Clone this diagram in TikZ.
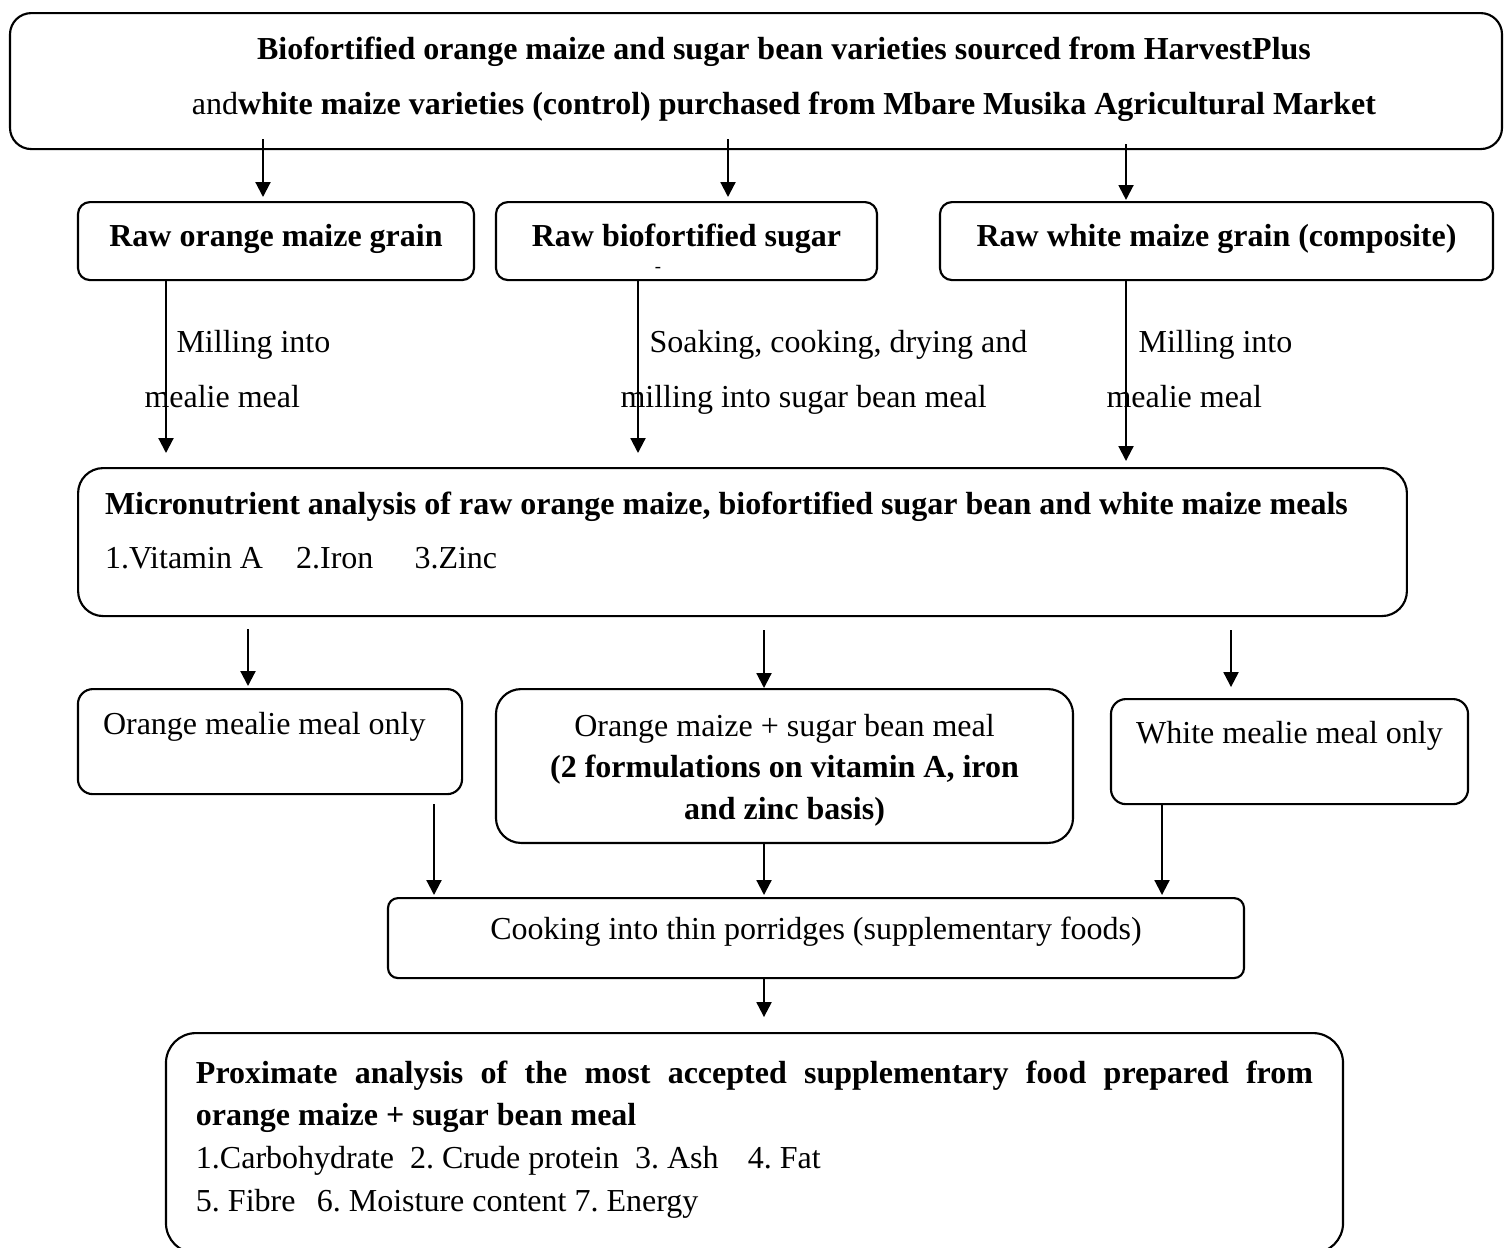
\documentclass[tikz,border=0pt]{standalone}
\usepackage{fontspec}
\setmainfont{Liberation Serif}
\usetikzlibrary{arrows.meta, calc}
\newcommand{\boxfont}[1]{\fontsize{12}{#1}\selectfont}
\tikzstyle{frame} = [draw, line width=0.8pt, inner xsep=0pt, inner ysep=0pt, anchor=north]
\tikzstyle{box} = [frame, align=center, font=\boxfont{14.4}, execute at begin node={\spaceskip=3pt\xspaceskip=3pt\relax}]
\tikzstyle{flow} = [line width=0.8pt, -{Triangle[length=5.6pt, width=5.6pt]}]
\tikzstyle{lbl} = [inner sep=0pt, anchor=base west, font=\boxfont{14.4}]

\begin{document}
\begin{tikzpicture}[x=0.375pt, y=-0.375pt]
\useasboundingbox (0,0) rectangle (1504,1247);
\clip (0,0) rectangle (1504,1247);

% sources
\node[box, rounded corners=8pt, text width=559.5pt, text height=17.25pt, text depth=33.75pt, font=\boxfont{20.6}] (src) at (756,12) {\hspace*{21pt}\textbf{Biofortified orange maize and sugar bean varieties sourced from HarvestPlus}\\\hspace*{21pt}and\textbf{white maize varieties (control) purchased from Mbare Musika Agricultural Market}};

% raw grains
\node[box, rounded corners=4.5pt, text width=148.5pt, text height=16.5pt, text depth=12.75pt] (rog) at (276,201) {\textbf{Raw orange maize grain}};
\node[box, rounded corners=4.5pt, text width=142.9pt, text height=16.5pt, text depth=12.75pt] (rbs) at (686.5,201) {\textbf{Raw biofortified sugar}};
\node[inner sep=0pt, font=\scriptsize] (dash) at (658,270) {-};
\node[box, rounded corners=4.5pt, text width=207.4pt, text height=16.5pt, text depth=12.75pt] (rwg) at (1216.5,201) {\textbf{Raw white maize grain (composite)}};

\node[lbl] (mill1a) at (176,352) {Milling into};
\node[lbl] (mill1b) at (144,407) {mealie meal};
\node[lbl] (soak1) at (649,352) {Soaking, cooking, drying and};
\node[lbl] (soak2) at (620,407) {milling into sugar bean meal};
\node[lbl] (mill2a) at (1138,352) {Milling into};
\node[lbl] (mill2b) at (1106,407) {mealie meal};

% analysis
\node[box, rounded corners=9.4pt, inner xsep=10.1pt, text width=478.1pt, text height=17.25pt, text depth=38.25pt, align=left, font=\boxfont{20.25}] (micro) at (742.5,467) {\textbf{Micronutrient analysis of raw orange maize, biofortified sugar bean and white maize meals}\\1.Vitamin A\hspace{12.4pt}2.Iron\hspace{15.4pt}3.Zinc};

\node[box, rounded corners=5.6pt, inner xsep=9.4pt, text width=125.25pt, text height=16.9pt, text depth=22.5pt, align=left] (omo) at (270,688) {Orange mealie meal only};
\node[box, rounded corners=9.4pt, text width=216.4pt, text height=17.6pt, text depth=40.1pt, font=\boxfont{15.6}] (mix) at (784.5,688) {Orange maize + sugar bean meal\\\textbf{(2 formulations on vitamin A, iron}\\\textbf{and zinc basis)}};
\node[box, rounded corners=5.6pt, text width=133.9pt, text height=16.5pt, text depth=22.9pt] (wmo) at (1289.5,698) {White mealie meal only};

\node[box, rounded corners=3.75pt, text width=321pt, text height=15.4pt, text depth=14.6pt] (cook) at (816,897) {Cooking into thin porridges (supplementary foods)};

\node[frame, rounded corners=11.25pt, inner xsep=11.25pt, text width=418.9pt, text height=18.75pt, text depth=63.75pt, align=justify, font=\boxfont{16}] (prox) at (754.5,1032) {\textbf{Proximate analysis of the most accepted supplementary food prepared from\linebreak orange maize + sugar bean meal}\\\spaceskip=3pt\xspaceskip=3pt\relax 1.Carbohydrate\ \ 2. Crude protein\ \ 3. Ash\hspace{11pt}4. Fat\\5. Fibre\hspace{8pt}6. Moisture content 7. Energy};

% arrows
\draw[flow, shorten <=-4.1pt, shorten >=1.5pt] (263,0 |- src.south) -- (263,0 |- rog.north);
\draw[flow, shorten <=-4.1pt, shorten >=1.5pt] (728,0 |- src.south) -- (728,0 |- rbs.north);
\draw[flow, shorten <=-2.25pt, shorten >=0.4pt] (1126,0 |- src.south) -- (1126,0 |- rwg.north);
\draw[flow, shorten >=5.25pt] (166,0 |- rog.south) -- (166,0 |- micro.north);
\draw[flow, shorten >=5.25pt] (638,0 |- rbs.south) -- (638,0 |- micro.north);
\draw[flow, shorten >=2.25pt] (1126,0 |- rwg.south) -- (1126,0 |- micro.north);
\draw[flow, shorten <=4.5pt, shorten >=0.75pt] (248,0 |- micro.south) -- (248,0 |- omo.north);
\draw[flow, shorten <=4.9pt] (764,0 |- micro.south) -- (764,0 |- mix.north);
\draw[flow, shorten <=4.9pt, shorten >=4.1pt] (1231,0 |- micro.south) -- (1231,0 |- wmo.north);
\draw[flow, shorten <=3.4pt, shorten >=0.75pt] (434,0 |- omo.south) -- (434,0 |- cook.north);
\draw[flow, shorten >=0.75pt] (764,0 |- mix.south) -- (764,0 |- cook.north);
\draw[flow, shorten >=0.75pt] (1162,0 |- wmo.south) -- (1162,0 |- cook.north);
\draw[flow, shorten >=5.6pt] (764,0 |- cook.south) -- (764,0 |- prox.north);
\end{tikzpicture}
\end{document}
